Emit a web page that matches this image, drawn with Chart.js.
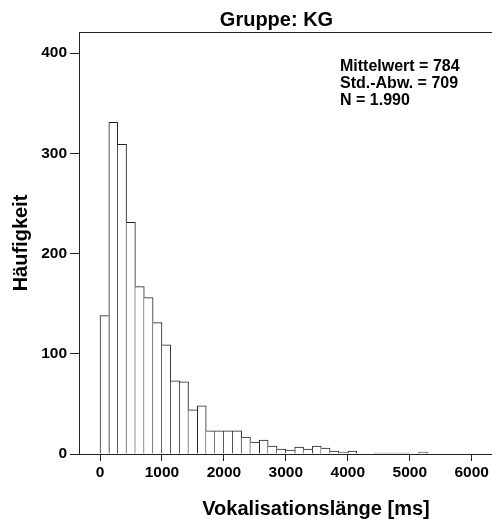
<!DOCTYPE html>
<html>
<head>
<meta charset="utf-8">
<script src="https://cdn.jsdelivr.net/npm/chart.js@4.4.1/dist/chart.umd.min.js"></script>
<style>
  html, body { margin: 0; padding: 0; background: #fff; overflow: hidden; }
  #wrap { width: 492px; height: 519px; overflow: hidden; position: relative; }
  canvas { display: block; }
</style>
</head>
<body>
<div id="wrap"><canvas id="c" width="654" height="519"></canvas></div>
<script>
// ---- data ----
const chartTitle = 'Gruppe: KG';
const xAxisTitle = 'Vokalisationslänge [ms]';
const yAxisTitle = 'Häufigkeit';
const statLines = ['Mittelwert = 784', 'Std.-Abw. = 709', 'N = 1.990'];

const binWidth = 1000 / 7;
const binStarts = [0, 142.86, 285.71, 428.57, 571.43, 714.29, 857.14, 1000, 1142.86, 1285.71,
  1428.57, 1571.43, 1714.29, 1857.14, 2000, 2142.86, 2285.71, 2428.57, 2571.43, 2714.29,
  2857.14, 3000, 3142.86, 3285.71, 3428.57, 3571.43, 3714.29, 3857.14, 4000, 4142.86,
  4285.71, 4428.57, 4571.43, 4714.29, 4857.14, 5000, 5142.86];
const counts = [138, 331, 309, 231, 167, 156, 131, 109, 73, 72,
  44, 48, 23, 23, 23, 23, 17, 12, 14, 8,
  5, 4, 7, 5, 8, 6, 3, 2, 3, 0,
  0, 1, 1, 1, 1, 0, 2];

const xTicks = [0, 1000, 2000, 3000, 4000, 5000, 6000, 7000];
const yTicks = [0, 100, 200, 300, 400];
const xMin = -339, xMax = 7312;
const yMin = 0, yMax = 421;

// ---- chart ----
const FONT = "'Liberation Sans', Arial, sans-serif";
const LINE = '#222';

const points = binStarts.map((s, i) => ({ x: s + binWidth / 2, y: counts[i] }));

const framePlugin = {
  id: 'frame',
  afterDraw(chart) {
    const { ctx, chartArea: a } = chart;
    ctx.save();
    ctx.strokeStyle = LINE;
    ctx.lineWidth = 1;
    ctx.beginPath();
    ctx.moveTo(a.left, Math.round(a.top) + 0.5);
    ctx.lineTo(a.right, Math.round(a.top) + 0.5);
    ctx.moveTo(Math.round(a.right) - 0.5, a.top);
    ctx.lineTo(Math.round(a.right) - 0.5, a.bottom);
    ctx.stroke();
    // statistics box text
    ctx.fillStyle = '#000';
    ctx.font = 'bold 16px ' + FONT;
    ctx.textAlign = 'left';
    ctx.textBaseline = 'alphabetic';
    statLines.forEach((t, i) => ctx.fillText(t, a.left + 261, a.top + 39 + i * 17));
    ctx.restore();
  }
};

new Chart(document.getElementById('c'), {
  type: 'bar',
  data: {
    datasets: [{
      data: points,
      backgroundColor: '#ffffff',
      borderColor: LINE,
      borderSkipped: false,
      borderWidth: (ctx) => {
        const i = ctx.dataIndex;
        const c = counts[i];
        const prev = i > 0 ? counts[i - 1] : 0;
        const next = i < counts.length - 1 ? counts[i + 1] : 0;
        return { top: 1, bottom: 0, left: c > prev ? 1 : 0, right: c >= next ? 1 : 0 };
      },
      barPercentage: 1,
      categoryPercentage: 1
    }]
  },
  options: {
    responsive: false,
    animation: false,
    layout: { padding: { left: 0, top: 0, right: 101, bottom: 0 } },
    plugins: {
      legend: { display: false },
      tooltip: { enabled: false },
      title: {
        display: true,
        text: chartTitle,
        color: '#000',
        font: { family: FONT, size: 20, weight: 'bold', lineHeight: 1.2 },
        padding: { top: 8, bottom: 0 }
      }
    },
    scales: {
      x: {
        type: 'linear',
        offset: false,
        min: xMin, max: xMax,
        afterFit: (s) => { s.height = 65; },
        afterBuildTicks: (s) => { s.ticks = xTicks.map(v => ({ value: v })); },
        ticks: {
          color: '#000', padding: 2,
          maxRotation: 0, autoSkip: false,
          callback: (v) => String(v),
          font: { family: FONT, size: 15.5, weight: 'bold' }
        },
        grid: { offset: false, drawOnChartArea: false, drawTicks: true, tickLength: 7, color: LINE, tickColor: LINE },
        border: { display: true, color: LINE, width: 1 },
        title: {
          display: true, text: xAxisTitle, color: '#000',
          font: { family: FONT, size: 20, weight: 'bold', lineHeight: 1 },
          padding: { top: 0, bottom: 0 }
        }
      },
      y: {
        type: 'linear',
        min: yMin, max: yMax,
        afterFit: (s) => { s.width = 79; },
        afterBuildTicks: (s) => { s.ticks = yTicks.map(v => ({ value: v })); },
        ticks: {
          color: '#000', padding: 3,
          callback: (v) => String(v),
          font: { family: FONT, size: 15.5, weight: 'bold' }
        },
        grid: { drawOnChartArea: false, drawTicks: true, tickLength: 9, color: LINE, tickColor: LINE },
        border: { display: true, color: LINE, width: 1 },
        title: {
          display: true, text: yAxisTitle, color: '#000',
          font: { family: FONT, size: 20, weight: 'bold', lineHeight: 1.2 },
          padding: { top: 9.5, bottom: 0 }
        }
      }
    }
  },
  plugins: [framePlugin]
});
</script>
</body>
</html>
